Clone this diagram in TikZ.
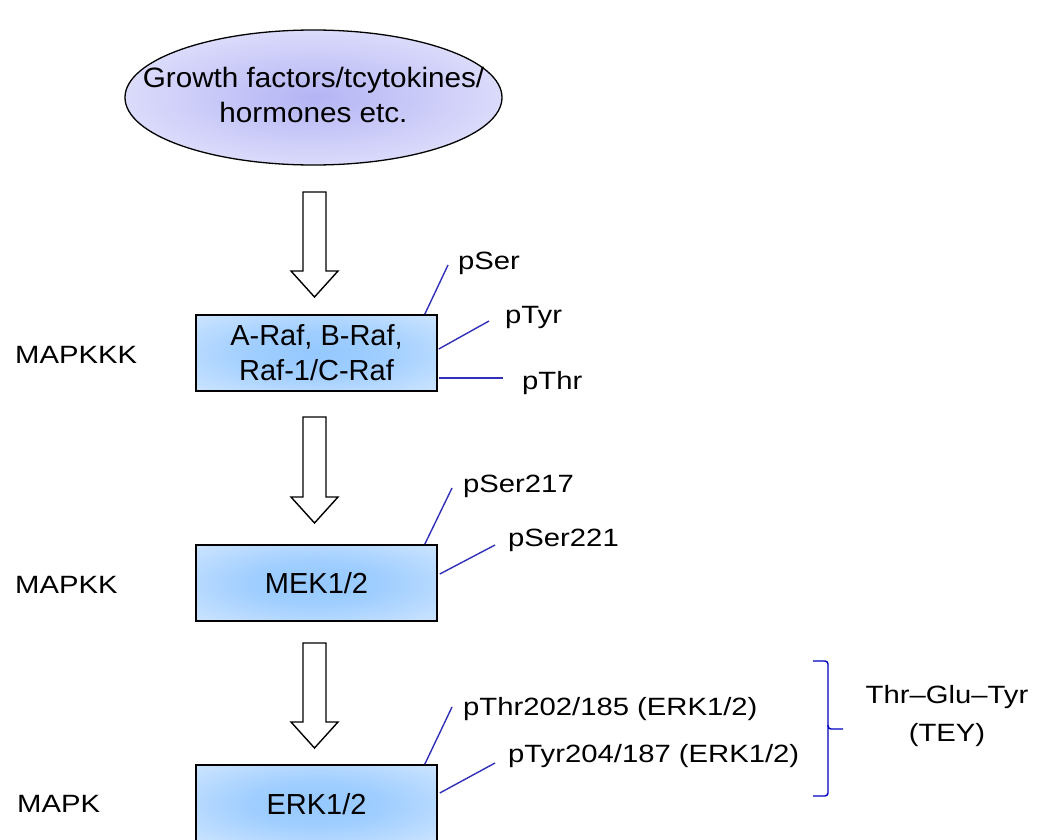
\documentclass[tikz,border=0pt]{standalone}
\usepackage{fontspec}
\setmainfont{Liberation Sans}
\newfontfamily\sitefont[FakeStretch=1.17]{Liberation Sans}
\newfontfamily\growthfont[FakeStretch=1.06]{Liberation Sans}
\usepackage{tikz}
\usetikzlibrary{shapes.geometric,calc}

\definecolor{kinin}{RGB}{148,200,255}
\definecolor{kinout}{RGB}{226,239,255}
\definecolor{sigin}{RGB}{180,180,245}
\definecolor{sigout}{RGB}{242,242,255}
\definecolor{siteblue}{RGB}{48,48,185}
\pgfdeclareradialshading{kinglow}{\pgfpoint{0bp}{0bp}}{color(0bp)=(kinin); color(14bp)=(kinin!85!kinout); color(46bp)=(kinout); color(50bp)=(kinout)}
\pgfdeclareradialshading{sigglow}{\pgfpoint{0bp}{0bp}}{color(0bp)=(sigin); color(40bp)=(sigout); color(50bp)=(sigout)}

\tikzset{
  kinase/.style={draw, line width=1.6pt, shading=kinglow, rectangle, minimum width=241pt,
                 minimum height=76pt, inner sep=0pt, align=center, font=\fontsize{29}{35}\selectfont},
  signal/.style={draw, line width=1.3pt, shading=sigglow, ellipse, minimum width=377pt,
                 minimum height=135pt, inner sep=0pt},
  site/.style={draw=siteblue, line width=1.4pt},
  sitelabel/.style={anchor=base west, inner sep=0pt, font=\sitefont\fontsize{25}{38}\selectfont},
  hollow/.style={draw, line width=1.4pt, fill=white, line join=miter}
}

\begin{document}
\begin{tikzpicture}[x=1pt, y=-1pt]
  \useasboundingbox (0,0) rectangle (1037,839);
  \clip (0,0) rectangle (1037,839);

  % signal and the three kinases
  \node[signal] (growth) at (313.5,97.5) {};
  \node[align=center, font=\growthfont\fontsize{28}{35}\selectfont] (growthtext) at ($(growth)+(0,-3)$)
       {Growth factors/tcytokines/\\hormones etc.};
  \node[kinase] (raf) at (316.5,353) {A-Raf, B-Raf,\\Raf-1/C-Raf};
  \node[kinase] (mek) at (316.5,583) {MEK1/2};
  \node[kinase, minimum height=78pt] (erk) at (316.5,804) {ERK1/2};

  % levels
  \node[sitelabel] (mapkkk) at (15,363) {MAPKKK};
  \node[sitelabel] (mapkk) at (15,593) {MAPKK};
  \node[sitelabel] (mapk) at (17,812) {MAPK};

  % block arrows
  \foreach \ytop/\ytip in {192/297, 417/523, 643/748}
    \draw[hollow] (303,\ytop) -- (326,\ytop) -- (326,\ytip-26) -- (338,\ytip-26)
                  -- (314.5,\ytip) -- (291,\ytip-26) -- (303,\ytip-26) -- cycle;

  % phosphorylation sites
  \node[sitelabel] (pser) at (458,269) {pSer};
  \node[sitelabel] (ptyr) at (505,323) {pTyr};
  \node[sitelabel] (pthr) at (522,389) {pThr};
  \node[sitelabel] (pser217) at (463,492) {pSer217};
  \node[sitelabel] (pser221) at (508,546) {pSer221};
  \node[sitelabel] (pthr202) at (463,715) {pThr202/185 (ERK1/2)};
  \node[sitelabel] (ptyr204) at (508,762) {pTyr204/187 (ERK1/2)};

  \draw[site] ($(raf.north east)+(-13,0)$) -- ($(pser.base west)+(-10,-4)$);
  \draw[site] ($(raf.east)+(1,-4)$) -- ($(ptyr.base west)+(-16,-2)$);
  \draw[site] ($(raf.east)+(1,25)$) -- ($(pthr.base west)+(-19,-11)$);
  \draw[site] ($(mek.north east)+(-13,0)$) -- ($(pser217.base west)+(-11,-4)$);
  \draw[site] ($(mek.east)+(2,-9)$) -- ($(pser221.base west)+(-13,-1)$);
  \draw[site] ($(erk.north east)+(-13,0)$) -- ($(pthr202.base west)+(-11,-8)$);
  \draw[site] ($(erk.east)+(2,-11)$) -- ($(ptyr204.base west)+(-13,1)$);

  % TEY motif
  \draw[site, draw=blue!75!black, rounded corners=3pt] (813,661) -- (828,661) -- (828,729) -- (843,729);
  \draw[site, draw=blue!75!black, rounded corners=3pt] (828,725) -- (828,796) -- (813,796);
  \node[sitelabel, anchor=base, align=center] (tey) at (947,741) {Thr–Glu–Tyr\\(TEY)};
\end{tikzpicture}
\end{document}
